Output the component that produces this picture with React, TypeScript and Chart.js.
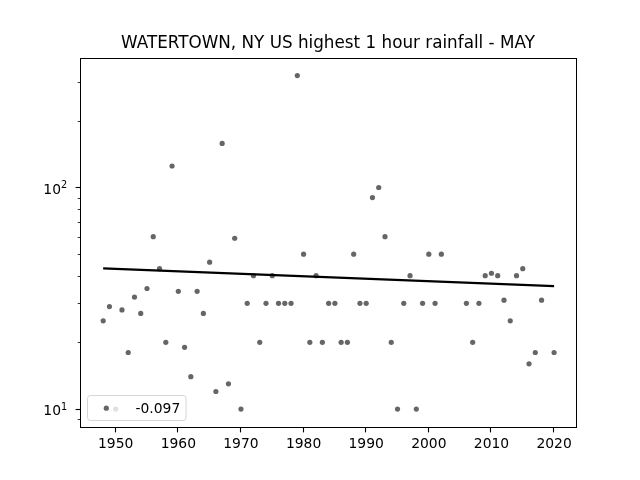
import React, { useEffect, useRef } from "react";
import { Chart, registerables } from "chart.js";

Chart.register(...registerables);

const years = [1948, 1949, 1950, 1951, 1952, 1953, 1954, 1955, 1956, 1957, 1958, 1959, 1960, 1961, 1962, 1963, 1964, 1965, 1966, 1967, 1968, 1969, 1970, 1971, 1972, 1973, 1974, 1975, 1976, 1977, 1978, 1979, 1980, 1981, 1982, 1983, 1984, 1985, 1986, 1987, 1988, 1989, 1990, 1991, 1992, 1993, 1994, 1995, 1996, 1997, 1998, 1999, 2000, 2001, 2002, 2006, 2007, 2008, 2009, 2010, 2011, 2012, 2013, 2014, 2015, 2016, 2017, 2018, 2020];
const rainfall = [25, 29, 10, 28, 18, 32, 27, 35, 60, 43, 20, 125, 34, 19, 14, 34, 27, 46, 12, 158, 13, 59, 10, 30, 40, 20, 30, 40, 30, 30, 30, 320, 50, 20, 40, 20, 30, 30, 20, 20, 50, 30, 30, 90, 100, 60, 20, 10, 30, 40, 10, 30, 50, 30, 50, 30, 20, 30, 40, 41, 40, 31, 25, 40, 43, 16, 18, 31, 18];
const trendYears = [1948, 2020];
const trendValues = [43.1, 35.9];
const xTicks = [1950, 1960, 1970, 1980, 1990, 2000, 2010, 2020];
const yMajorTicks = [10, 100];
const yExponents = ["1", "2"];
const yMinorTicks = [9, 20, 30, 40, 50, 60, 70, 80, 90, 200, 300];
const titleText = "WATERTOWN, NY US highest 1 hour rainfall - MAY";
const legendText = "-0.097";

const FONT = '"DejaVu Sans"';

const framePlugin = {
  id: "frame",
  afterDatasetsDraw(chart: any) {
    const { ctx, chartArea: a, scales } = chart;
    ctx.save();
    // legend box, translucent over the data
    const lx = 87.5, ly = 395.5, lw = 98.5, lh = 25, r = 3;
    ctx.beginPath();
    ctx.roundRect(lx, ly, lw, lh, r);
    ctx.fillStyle = "rgba(255,255,255,0.8)";
    ctx.fill();
    ctx.strokeStyle = "rgba(204,204,204,0.8)";
    ctx.lineWidth = 1;
    ctx.stroke();
    ctx.beginPath();
    ctx.arc(106.3, 408.2, 2.6, 0, Math.PI * 2);
    ctx.fillStyle = "rgba(0,0,0,0.6)";
    ctx.fill();
    ctx.fillStyle = "#000";
    ctx.font = `13.89px ${FONT}`;
    ctx.textAlign = "left";
    ctx.textBaseline = "alphabetic";
    ctx.fillText(legendText, 135.5, 413);
    // spines, on whole pixel rows and columns
    const fl = Math.floor(a.left) + 0.5;
    const ft = Math.floor(a.top) + 0.5 + 1;
    const fr = Math.floor(a.right) + 0.5;
    const fb = Math.floor(a.bottom) + 0.5;
    ctx.strokeStyle = "#000";
    ctx.lineWidth = 1;
    ctx.strokeRect(fl, ft, fr - fl, fb - ft);
    // tick marks
    const mark = (x0: number, y0: number, x1: number, y1: number) => {
      ctx.beginPath();
      ctx.moveTo(x0, y0);
      ctx.lineTo(x1, y1);
      ctx.stroke();
    };
    ctx.lineWidth = 1.1;
    xTicks.forEach((v) => {
      const x = Math.floor(scales.x.getPixelForValue(v) - 0.5) + 0.5;
      mark(x, fb, x, fb + 4.9);
    });
    yMajorTicks.forEach((v, i) => {
      const py = scales.y.getPixelForValue(v);
      const y = Math.round(py) + 0.5;
      mark(fl, y, fl - 4.9, y);
      // decade label: base plus raised exponent
      ctx.fillStyle = "#000";
      ctx.textAlign = "right";
      ctx.font = `13.89px ${FONT}`;
      ctx.fillText("10", 61, py + 6.2);
      ctx.textAlign = "left";
      ctx.font = `9.72px ${FONT}`;
      ctx.fillText(yExponents[i], 61, py + 0.7);
    });
    ctx.lineWidth = 0.8;
    yMinorTicks.forEach((v) => {
      const y = Math.round(scales.y.getPixelForValue(v)) + 0.5;
      mark(fl, y, fl - 2.8, y);
    });
    ctx.restore();
  },
};

export default function App() {
  const ref = useRef<HTMLCanvasElement>(null);
  useEffect(() => {
    document.body.style.margin = "0";
    const chart = new Chart(ref.current as HTMLCanvasElement, {
      type: "scatter",
      data: {
        datasets: [
          {
            type: "line",
            label: "trend",
            data: trendYears.map((x, i) => ({ x, y: trendValues[i] })),
            borderColor: "#000",
            borderWidth: 2.2,
            pointRadius: 0,
            order: 1,
          },
          {
            label: legendText,
            data: years.map((x, i) => ({ x, y: rainfall[i] })),
            backgroundColor: "rgba(0,0,0,0.6)",
            borderWidth: 0,
            pointRadius: 2.6,
            order: 2,
          },
        ],
      } as any,
      options: {
        animation: false,
        responsive: false,
        devicePixelRatio: 1,
        layout: { padding: { left: 0, right: 64, top: 0, bottom: 0 } },
        plugins: {
          legend: { display: false },
          tooltip: { enabled: false },
          title: {
            display: true,
            text: titleText,
            color: "#000",
            fullSize: false,
            font: { family: FONT, size: 16.8, weight: "normal" },
            padding: { top: 34, bottom: 3.6 },
          },
        },
        scales: {
          x: {
            type: "linear",
            min: 1944.3,
            max: 2023.5,
            grid: { display: false },
            border: { display: false },
            afterFit: (s: any) => { s.height = 52.8; },
            afterBuildTicks: (s: any) => { s.ticks = xTicks.map((value) => ({ value })); },
            ticks: {
              color: "#000",
              padding: 1,
              maxRotation: 0,
              autoSkip: false,
              font: { family: FONT, size: 13.89 },
              callback: (v: any) => String(v),
            },
          },
          y: {
            type: "logarithmic",
            min: 8.28,
            max: 385,
            grid: { display: false },
            border: { display: false },
            afterFit: (s: any) => { s.width = 80; },
            ticks: { display: false },
          },
        },
      } as any,
      plugins: [framePlugin],
    });
    return () => chart.destroy();
  }, []);
  return <canvas ref={ref} width={640} height={480} style={{ display: "block" }} />;
}
